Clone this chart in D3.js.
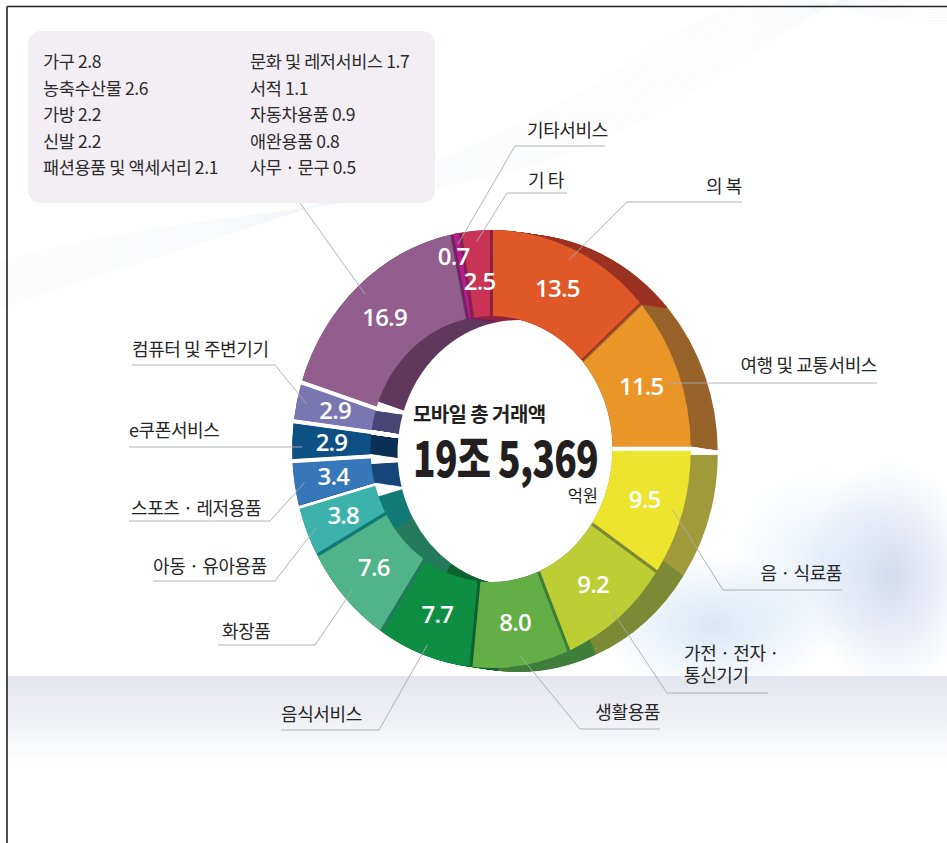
<!DOCTYPE html>
<html><head><meta charset="utf-8">
<script src="https://cdn.jsdelivr.net/npm/d3@7"></script>
<style>html,body{margin:0;padding:0;background:#fff;} svg{display:block;}</style>
</head><body>
<svg id="c" width="947" height="843"></svg>
<script>
// ---------------- DATA ----------------
const categories = ["의 복","여행 및 교통서비스","음 · 식료품","가전 · 전자 · 통신기기","생활용품","음식서비스","화장품","아동 · 유아용품","스포츠 · 레저용품","e쿠폰서비스","컴퓨터 및 주변기기","기타 상품군","기타서비스","기 타"];
const values = [13.5,11.5,9.5,9.2,8.0,7.7,7.6,3.8,3.4,2.9,2.9,16.9,0.7,2.5];
const valueLabels = ["13.5","11.5","9.5","9.2","8.0","7.7","7.6","3.8","3.4","2.9","2.9","16.9","0.7","2.5"];
const boxCategories = ["가구","농축수산물","가방","신발","패션용품 및 액세서리","문화 및 레저서비스","서적","자동차용품","애완용품","사무 · 문구"];
const boxValues = ["2.8","2.6","2.2","2.2","2.1","1.7","1.1","0.9","0.8","0.5"];
const totalTitle = "모바일 총 거래액";
const totalValue = "19조 5,369";
const totalUnit = "억원";

// ---------------- STYLE ----------------
const faceColors = ["#E05827","#EA9528","#EDE42E","#BCCE33","#63AF45","#0D8E42","#50B38A","#3BB2AB","#3577B8","#0D5084","#7A76B2","#925E8D","#B41F8C","#C93454"];
const sideColors = ["#9B3120","#97632A","#A09A3A","#7C8A35","#3F7E3A","#0D6230","#247A5C","#127A74","#15467A","#0A3155","#4A4577","#60385E","#7D1A63","#8E2440"];

const svg = d3.select("#c");
const W = 947, H = 843;
const cx = 491.5, cy = 449, sx = 0.91;
const R_OUT = 219, R_IN = 133;
const DX = 27, DY = 4;
const FONT = "'Noto Sans CJK KR','Noto Sans',sans-serif";

// ---------------- BACKGROUND ----------------
const defs = svg.append("defs");
const bandG = defs.append("linearGradient").attr("id","band").attr("x1",0).attr("y1",0).attr("x2",0).attr("y2",1);
bandG.append("stop").attr("offset","0%").attr("stop-color","#E3E5EE");
bandG.append("stop").attr("offset","55%").attr("stop-color","#F1F2F6");
bandG.append("stop").attr("offset","100%").attr("stop-color","#ffffff");
function radial(id, color, op){
  const g = defs.append("radialGradient").attr("id",id);
  g.append("stop").attr("offset","0%").attr("stop-color",color).attr("stop-opacity",op);
  g.append("stop").attr("offset","100%").attr("stop-color",color).attr("stop-opacity",0);
}
radial("blob1","#C9D1EA",0.8);
radial("blob2","#D4E4F3",0.9);

svg.append("rect").attr("width",W).attr("height",H).attr("fill","#fff");
svg.append("ellipse").attr("cx",890).attr("cy",575).attr("rx",85).attr("ry",115).attr("fill","url(#blob1)");
svg.append("ellipse").attr("cx",715).attr("cy",625).attr("rx",120).attr("ry",70).attr("fill","url(#blob2)");
svg.append("ellipse").attr("cx",820).attr("cy",560).attr("rx",90).attr("ry",90).attr("fill","url(#blob2)").attr("opacity",0.6);
svg.append("rect").attr("x",7).attr("y",676).attr("width",W).attr("height",88).attr("fill","url(#band)");

// faint wave lines (decoration)
const waves = svg.append("g").attr("fill","none").attr("stroke","#DCE0EA").attr("stroke-width",0.5).attr("opacity",0.3);
d3.range(22).forEach(i=>{
  waves.append("path").attr("d",
    `M 0 ${262 + i*2.2} C 220 ${200 + i*1.5}, 470 ${215 - i*2}, 640 ${120 - i*3} S 820 ${-10 + i*2}, 960 ${-40 + i*3}`);
});

// frame lines
svg.append("line").attr("x1",7).attr("y1",6.5).attr("x2",W).attr("y2",6.5).attr("stroke","#222").attr("stroke-width",1.6);
svg.append("line").attr("x1",7).attr("y1",6.5).attr("x2",7).attr("y2",H).attr("stroke","#222").attr("stroke-width",1.6);

// ---------------- LEGEND BOX ----------------
svg.append("rect").attr("x",28).attr("y",31).attr("width",407).attr("height",172).attr("rx",13)
  .attr("fill","#F2EEF4");
const boxText = svg.append("g").attr("font-family",FONT).attr("font-size",17.5).attr("fill","#2b2b2b");
boxCategories.forEach((c,i)=>{
  const col = i < 5 ? 0 : 1;
  const row = i % 5;
  boxText.append("text").attr("x", col ? 250 : 43).attr("y", 68 + row*26.6)
    .attr("letter-spacing",-0.4)
    .text(c + " " + boxValues[i]);
});

// ---------------- DONUT ----------------
const pie = d3.pie().sort(null).value(d=>d).startAngle(0).endAngle(2*Math.PI);
const arcs = pie(values);
const arcGen = d3.arc().innerRadius(R_IN).outerRadius(R_OUT);
const faceGen = d3.arc().innerRadius(R_IN).outerRadius(R_OUT).padAngle(0.013);

const ring = svg.append("g").attr("transform",`translate(${cx},${cy}) scale(${sx},1)`);
const steps = d3.range(0, DX + 0.01, 1.5);
const gapAfter = [1,7,8,9,10];
function gapLines(g, ks){
  gapAfter.forEach(i=>{
    const t = arcs[i].endAngle;
    const w = i===7 ? 2.2 : 4;
    ks.forEach(k=>{
      g.append("line")
        .attr("x1",(R_IN-2)*Math.sin(t) + k/sx).attr("y1",-(R_IN-2)*Math.cos(t) + k*DY/DX)
        .attr("x2",(R_OUT+2)*Math.sin(t) + k/sx).attr("y2",-(R_OUT+2)*Math.cos(t) + k*DY/DX)
        .attr("stroke-width",w).attr("vector-effect","non-scaling-stroke");
    });
  });
}
// sides (extrusion sweep)
const sides = ring.append("g");
arcs.forEach((a,i)=>{
  steps.forEach(k=>{
    sides.append("path").attr("d",arcGen(a))
      .attr("transform",`translate(${k/sx},${k*DY/DX})`)
      .attr("fill",sideColors[i]);
  });
});
gapLines(ring.append("g").attr("stroke","#fff"), steps);
// faces
ring.append("g").selectAll("path").data(arcs).join("path")
  .attr("d",faceGen).attr("fill",(d,i)=>faceColors[i]);
gapLines(ring.append("g").attr("stroke","#fff"), [0]);

function pt(angle, r){ return [cx + sx*r*Math.sin(angle), cy - r*Math.cos(angle)]; }
const mid = a => (a.startAngle + a.endAngle)/2;

// value labels
const valG = svg.append("g").attr("font-family","'Open Sans','Noto Sans',sans-serif")
  .attr("font-weight",600).attr("font-size",24).attr("fill","#fff").attr("text-anchor","middle")
  .attr("letter-spacing",-0.8);
arcs.forEach((a,i)=>{
  let r = 176, ang = mid(a);
  if (values[i] < 1) { r = 196; ang -= 0.035; }
  else if (i === arcs.length-1) { r = 168; }
  const p = pt(ang, r);
  valG.append("text").attr("x",p[0]).attr("y",p[1]+8).text(valueLabels[i]);
});

// ---------------- LEADERS & CATEGORY LABELS ----------------
const layout = [
  {tx:742, ty:193, anchor:"end",   ul:[627,742,202], elbow:[627,202]},
  {tx:877, ty:372, anchor:"end",   ul:[null,877,383], elbow:null},
  {tx:842, ty:580, anchor:"end",   ul:[723,842,590], elbow:[723,590]},
  {tx:684, ty:660, anchor:"start", ul:[667,768,693], elbow:[667,693], lines:["가전 · 전자 ·","통신기기"]},
  {tx:660, ty:719, anchor:"end",   ul:[580,660,729], elbow:[580,729]},
  {tx:281, ty:721, anchor:"start", ul:[281,379,730], elbow:[379,730]},
  {tx:222, ty:638, anchor:"start", ul:[218,315,645], elbow:[315,645]},
  {tx:153, ty:573, anchor:"start", ul:[153,275,581], elbow:[275,581]},
  {tx:131, ty:515, anchor:"start", ul:[129,270,521], elbow:[270,521]},
  {tx:129, ty:437, anchor:"start", ul:[129,null,447], elbow:null},
  {tx:132, ty:356, anchor:"start", ul:[132,275,365], elbow:[275,365]},
  {from:[300,203]},
  {tx:527, ty:137, anchor:"start", ul:[515,605,146], elbow:[515,146]},
  {tx:528, ty:187, anchor:"start", ul:[507,567,193], elbow:[507,193]}
];
const leadG = svg.append("g").attr("stroke","#A9ABB0").attr("stroke-width",0.9).attr("fill","none");
const labG = svg.append("g").attr("font-family",FONT).attr("font-size",18).attr("fill","#262626")
  .attr("letter-spacing",-0.4);
arcs.forEach((a,i)=>{
  const L = layout[i];
  const s = pt(mid(a), 208);
  if (L.from){
    leadG.append("path").attr("d",d3.line()([L.from, s]));
    return;
  }
  let pts;
  if (L.elbow){
    const far = L.elbow[0] === L.ul[0] ? L.ul[1] : L.ul[0];
    pts = [s, L.elbow, [far, L.ul[2]]];
  } else {
    const x1 = L.ul[0] === null ? s[0] : L.ul[0];
    const x2 = L.ul[1] === null ? s[0] : L.ul[1];
    pts = [[x1, L.ul[2]],[x2, L.ul[2]]];
  }
  leadG.append("path").attr("d",d3.line()(pts));
  const lines = L.lines || [categories[i]];
  const t = labG.append("text").attr("text-anchor",L.anchor);
  lines.forEach((ln,j)=>{
    t.append("tspan").attr("x",L.tx).attr("y",L.ty + j*22).text(ln);
  });
});

// ---------------- CENTER TEXT ----------------
const ct = svg.append("g").attr("font-family",FONT).attr("fill","#231F20");
ct.append("text").attr("x",413).attr("y",422).attr("font-size",20).attr("font-weight",700)
  .attr("letter-spacing",-0.6).text(totalTitle);
const big = ct.append("text").attr("transform","translate(413,477) scale(0.79,1)")
  .attr("font-size",49).attr("font-weight",900).attr("letter-spacing",-1).text(totalValue);
const bw = big.node().getComputedTextLength();
if (bw > 0) big.attr("transform",`translate(413,477) scale(${185/bw},1)`);
ct.append("text").attr("x",598).attr("y",502).attr("font-size",16.5).attr("text-anchor","end")
  .text(totalUnit);
</script>
</body></html>
